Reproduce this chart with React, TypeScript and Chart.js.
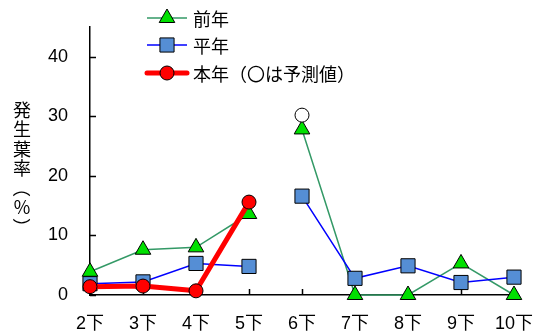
import { useEffect, useRef } from "react";
import { Chart, registerables } from "chart.js";
import { drawPoint } from "chart.js/helpers";

Chart.register(...registerables);

// Half-month periods (下 = second half of the month)
const categories = ["2下", "3下", "4下", "5下", "6下", "7下", "8下", "9下", "10下"];

// Leaf infection rate (%)
const prevYear = [3.9, 7.6, 8.0, 13.6, 27.8, 0, 0, 5.3, 0];
const normalYear = [1.9, 2.2, 5.3, 4.8, 16.6, 2.8, 4.9, 2.1, 3.0];
const thisYear = [1.4, 1.5, 0.7, 15.6, null, null, null, null, null];
const thisYearForecast = [null, null, null, null, 30.2, null, null, null, null];

// the survey series are not joined across this period boundary
const breakAfter = "5下";

const yTicks = [0, 10, 20, 30, 40];
const yMax = 45;
const yTitleChars = ["発", "生", "葉", "率", "（", "％", "）"];

const legendLabels = ["前年", "平年", "本年（〇は予測値）"];

const NUM_FONT = '"Liberation Sans", Arial, "Noto Sans CJK JP", sans-serif';
const JP_FONT = '"Noto Sans CJK JP", "Liberation Sans", sans-serif';

const breakIndex = categories.indexOf(breakAfter);
const segmentBreak = (color: string) => ({
  borderColor: (ctx: any) => (ctx.p0DataIndex === breakIndex ? "rgba(0,0,0,0)" : color),
});

const noScalePadding = (scale: any) => {
  scale.paddingLeft = 0;
  scale.paddingRight = 0;
  scale.paddingTop = 0;
  scale.paddingBottom = 0;
};

const decorations = {
  id: "decorations",
  beforeDatasetsDraw(chart: any) {
    const { ctx, chartArea, scales } = chart;
    const x = scales.x;
    const y = scales.y;
    ctx.save();
    ctx.strokeStyle = "#000";
    ctx.lineWidth = 1.5;
    ctx.beginPath();
    y.ticks.forEach((_t: any, i: number) => {
      const py = Math.round(y.getPixelForTick(i)) + 0.5;
      ctx.moveTo(chartArea.left, py);
      ctx.lineTo(chartArea.left + 6, py);
    });
    x.ticks.forEach((_t: any, i: number) => {
      const px = Math.round(x.getPixelForTick(i)) + 0.5;
      ctx.moveTo(px, chartArea.bottom);
      ctx.lineTo(px, chartArea.bottom - 6);
    });
    ctx.stroke();
    ctx.restore();
  },
  afterDraw(chart: any) {
    const { ctx } = chart;
    ctx.save();

    // vertical axis title, one character per line; brackets turned upright
    ctx.fillStyle = "#000";
    ctx.font = `18px ${JP_FONT}`;
    ctx.textAlign = "center";
    ctx.textBaseline = "middle";
    yTitleChars.forEach((ch, i) => {
      const cy = 110 + i * 19.5;
      if (ch === "（" || ch === "）") {
        ctx.save();
        ctx.translate(22, cy);
        ctx.rotate(Math.PI / 2);
        ctx.fillText(ch, 0, 0);
        ctx.restore();
      } else {
        ctx.fillText(ch, 22, cy);
      }
    });

    // legend
    const order = [3, 2, 0];
    const rowsY = [18, 45, 73];
    order.forEach((dsIndex, row) => {
      const ds = chart.data.datasets[dsIndex];
      const yy = rowsY[row];
      ctx.strokeStyle = ds.legendColor;
      ctx.lineWidth = ds.borderWidth;
      ctx.lineCap = ds.borderCapStyle || "butt";
      ctx.beginPath();
      ctx.moveTo(147, yy);
      ctx.lineTo(187, yy);
      ctx.stroke();
      ctx.lineCap = "butt";
      ctx.fillStyle = ds.pointBackgroundColor;
      ctx.strokeStyle = ds.pointBorderColor;
      ctx.lineWidth = ds.pointBorderWidth;
      drawPoint(
        ctx,
        { pointStyle: ds.pointStyle, radius: ds.pointRadius, rotation: 0, borderWidth: ds.pointBorderWidth },
        167,
        yy
      );
      ctx.fillStyle = "#000";
      ctx.font = `18px ${JP_FONT}`;
      ctx.textAlign = "left";
      ctx.textBaseline = "middle";
      ctx.fillText(legendLabels[row], 193, yy + 1);
    });
    ctx.restore();
  },
};

export default function App() {
  const canvasRef = useRef<HTMLCanvasElement>(null);

  useEffect(() => {
    if (!canvasRef.current) return;
    const chart = new Chart(canvasRef.current, {
      type: "line",
      data: {
        labels: categories,
        datasets: [
          {
            label: "本年",
            data: thisYear,
            borderColor: "#ff0000",
            legendColor: "#ff0000",
            borderWidth: 5,
            borderCapStyle: "round",
            borderJoinStyle: "round",
            pointStyle: "circle",
            pointRadius: 7,
            pointBackgroundColor: "#ff0000",
            pointBorderColor: "#000000",
            pointBorderWidth: 1,
            spanGaps: false,
            clip: false,
          } as any,
          {
            label: "本年（予測）",
            data: thisYearForecast,
            showLine: false,
            borderColor: "#000000",
            borderWidth: 1,
            pointStyle: "circle",
            pointRadius: 7,
            pointBackgroundColor: "#ffffff",
            pointBorderColor: "#000000",
            pointBorderWidth: 1,
            clip: false,
          },
          {
            label: "平年",
            data: normalYear,
            borderColor: "#0000ff",
            legendColor: "#0000ff",
            segment: segmentBreak("#0000ff"),
            borderWidth: 1.5,
            pointStyle: "rect",
            pointRadius: 10,
            pointBackgroundColor: "#558ed5",
            pointBorderColor: "#000000",
            pointBorderWidth: 1,
            clip: false,
          } as any,
          {
            label: "前年",
            data: prevYear,
            borderColor: "#339966",
            legendColor: "#339966",
            segment: segmentBreak("#339966"),
            borderWidth: 1.5,
            pointStyle: "triangle",
            pointRadius: 9,
            pointBackgroundColor: "#00e000",
            pointBorderColor: "#000000",
            pointBorderWidth: 1,
            clip: false,
          } as any,
        ],
      },
      options: {
        responsive: false,
        animation: false,
        events: [],
        layout: { padding: { top: 27, right: 31, left: 0, bottom: 0 } },
        plugins: {
          legend: { display: false },
          tooltip: { enabled: false },
        },
        elements: { line: { tension: 0 } },
        scales: {
          x: {
            type: "category",
            offset: false,
            grid: { display: true, drawOnChartArea: false, drawTicks: false },
            border: { display: true, color: "#000", width: 1.5 },
            ticks: {
              autoSkip: false,
              maxRotation: 0,
              padding: 18,
              color: "#000",
              font: { size: 18, family: NUM_FONT },
            },
            afterFit: (scale: any) => {
              scale.height = 38;
              noScalePadding(scale);
            },
          },
          y: {
            type: "linear",
            min: 0,
            max: yMax,
            grid: { display: true, drawOnChartArea: false, drawTicks: false },
            border: { display: true, color: "#000", width: 1.5 },
            afterBuildTicks: (scale: any) => {
              scale.ticks = yTicks.map((v) => ({ value: v }));
            },
            ticks: {
              padding: 22,
              color: "#000",
              font: { size: 18, family: NUM_FONT },
            },
            afterFit: (scale: any) => {
              scale.width = 90;
              noScalePadding(scale);
            },
          },
        },
      },
      plugins: [decorations],
    });
    return () => chart.destroy();
  }, []);

  return (
    <div style={{ position: "absolute", left: 0, top: 0, width: 545, height: 333, background: "#fff" }}>
      <canvas ref={canvasRef} width={545} height={333} style={{ display: "block" }} />
    </div>
  );
}
